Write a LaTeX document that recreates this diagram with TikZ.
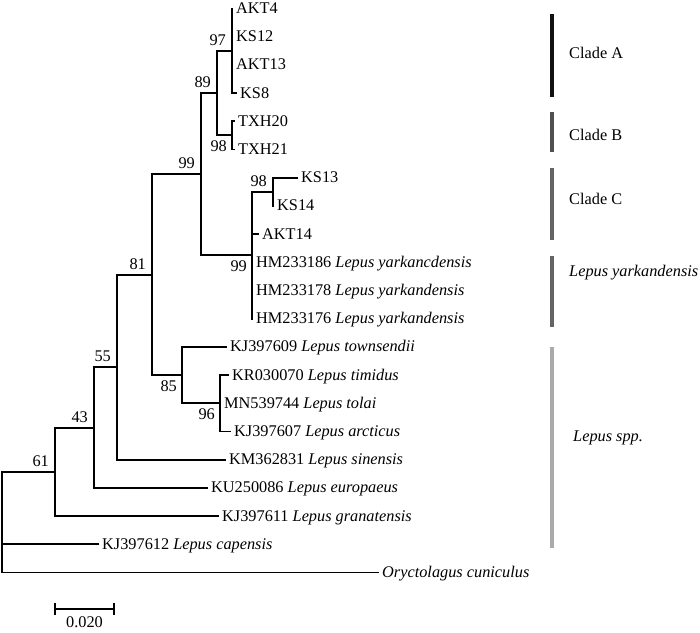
\documentclass[tikz,border=0pt]{standalone}
\usepackage{fontspec}
\setmainfont{Liberation Serif}
\usepackage{xcolor}
\tikzstyle{branch}=[line width=1.9pt, line cap=rect]
\tikzstyle{leaf}=[anchor=west, inner sep=0pt, xshift=4pt, text height=10pt, text depth=0pt]
\tikzstyle{bsup}=[anchor=south east, inner sep=0pt, xshift=-6pt, yshift=5pt]
\tikzstyle{bsdown}=[anchor=north east, inner sep=0pt, xshift=-5pt, yshift=-5pt]
\tikzstyle{cladebar}=[line width=3.5pt]
\tikzstyle{cladelab}=[anchor=west, inner sep=0pt]
\definecolor{barA}{HTML}{111111}
\definecolor{barB}{HTML}{505050}
\definecolor{barC}{HTML}{646464}
\definecolor{barS}{HTML}{AAAAAA}

\begin{document}
\begin{tikzpicture}[x=1pt,y=-1pt,font=\fontsize{16.3pt}{18pt}\selectfont]
\useasboundingbox (0,0) rectangle (700,632);
\coordinate (root) at (2,471.8);
\coordinate (n61) at (55,471.8);
\coordinate (n43) at (94,427.6);
\coordinate (n55) at (117,367.2);
\coordinate (n81) at (152,274.7);
\coordinate (n85) at (182,375.1);
\coordinate (n96) at (220,403.3);
\coordinate (n99a) at (201,174.2);
\coordinate (n89) at (217,93.1);
\coordinate (n97) at (232,50.8);
\coordinate (ntxh) at (232,135.4);
\coordinate (n99b) at (252,255.3);
\coordinate (n98b) at (273,191.8);
\foreach \nm/\x/\y/\txt in {akt4/232/8.5/AKT4, ks12/232/36.7/KS12, akt13/232/64.9/AKT13, ks8/236/93.1/KS8,
	txh20/234/121.3/TXH20, txh21/234/149.5/TXH21, ks13/297/177.7/KS13, ks14/273/205.9/KS14, akt14/258/234.1/AKT14,
	hm186/252/262.3/{HM233186 \textit{Lepus yarkancdensis}}, hm178/252/290.5/{HM233178 \textit{Lepus yarkandensis}},
	hm176/252/318.7/{HM233176 \textit{Lepus yarkandensis}}, t609/226/346.9/{KJ397609 \textit{Lepus townsendii}},
	t070/228/375.1/{KR030070 \textit{Lepus timidus}}, t744/220/403.3/{MN539744 \textit{Lepus tolai}},
	t607/230/431.5/{KJ397607 \textit{Lepus arcticus}}, t831/225/459.7/{KM362831 \textit{Lepus sinensis}},
	t086/207/487.9/{KU250086 \textit{Lepus europaeus}}, t611/218/516.1/{KJ397611 \textit{Lepus granatensis}},
	t612/98/544.3/{KJ397612 \textit{Lepus capensis}}, tory/378/572.5/{\textit{Oryctolagus cuniculus}}} {
	\coordinate (\nm) at (\x,\y);
	\node[leaf] (l\nm) at (\nm) {\txt};
}
\foreach \p/\c in {root/n61, root/t612, root/tory, n61/n43, n61/t611, n43/n55, n43/t086, n55/n81, n55/t831,
	n81/n99a, n81/n85, n85/t609, n85/n96, n96/t070, n96/t744, n96/t607, n99a/n89, n99a/n99b,
	n89/n97, n89/ntxh, n97/akt4, n97/ks12, n97/akt13, n97/ks8, ntxh/txh20, ntxh/txh21,
	n99b/n98b, n99b/akt14, n99b/hm186, n99b/hm178, n99b/hm176, n98b/ks13, n98b/ks14} {
	\draw[branch] (\p) |- (\c);
}
\foreach \nm/\v in {n97/97, n89/89, n99a/99, n98b/98, n81/81, n55/55, n43/43, n61/61} {
	\node[bsup] (b\nm) at (\nm) {\v};
}
\foreach \nm/\v in {ntxh/98, n99b/99, n85/85, n96/96} {
	\node[bsdown] (b\nm) at (\nm) {\v};
}
\foreach \nm/\ya/\yb/\col/\ly/\lx/\txt in {cA/14/97/barA/53/569/Clade A, cB/112/152/barB/135/569/Clade B,
	cC/168/240/barC/199/569/Clade C, cY/256/327/barC/273/569/{\textit{Lepus yarkandensis}},
	cS/347/548/barS/438/573/{\textit{Lepus spp.}}} {
	\draw[cladebar,\col] (552,\ya) -- (552,\yb);
	\node[cladelab] (\nm) at (\lx,\ly) {\txt};
}
\draw[line width=1.2pt] (55,603) -- (55,615) (55,609) -- (114,609) (114,603) -- (114,615);
\node[anchor=north, inner sep=0pt] (scale) at (84.5,616) {0.020};
\end{tikzpicture}
\end{document}
